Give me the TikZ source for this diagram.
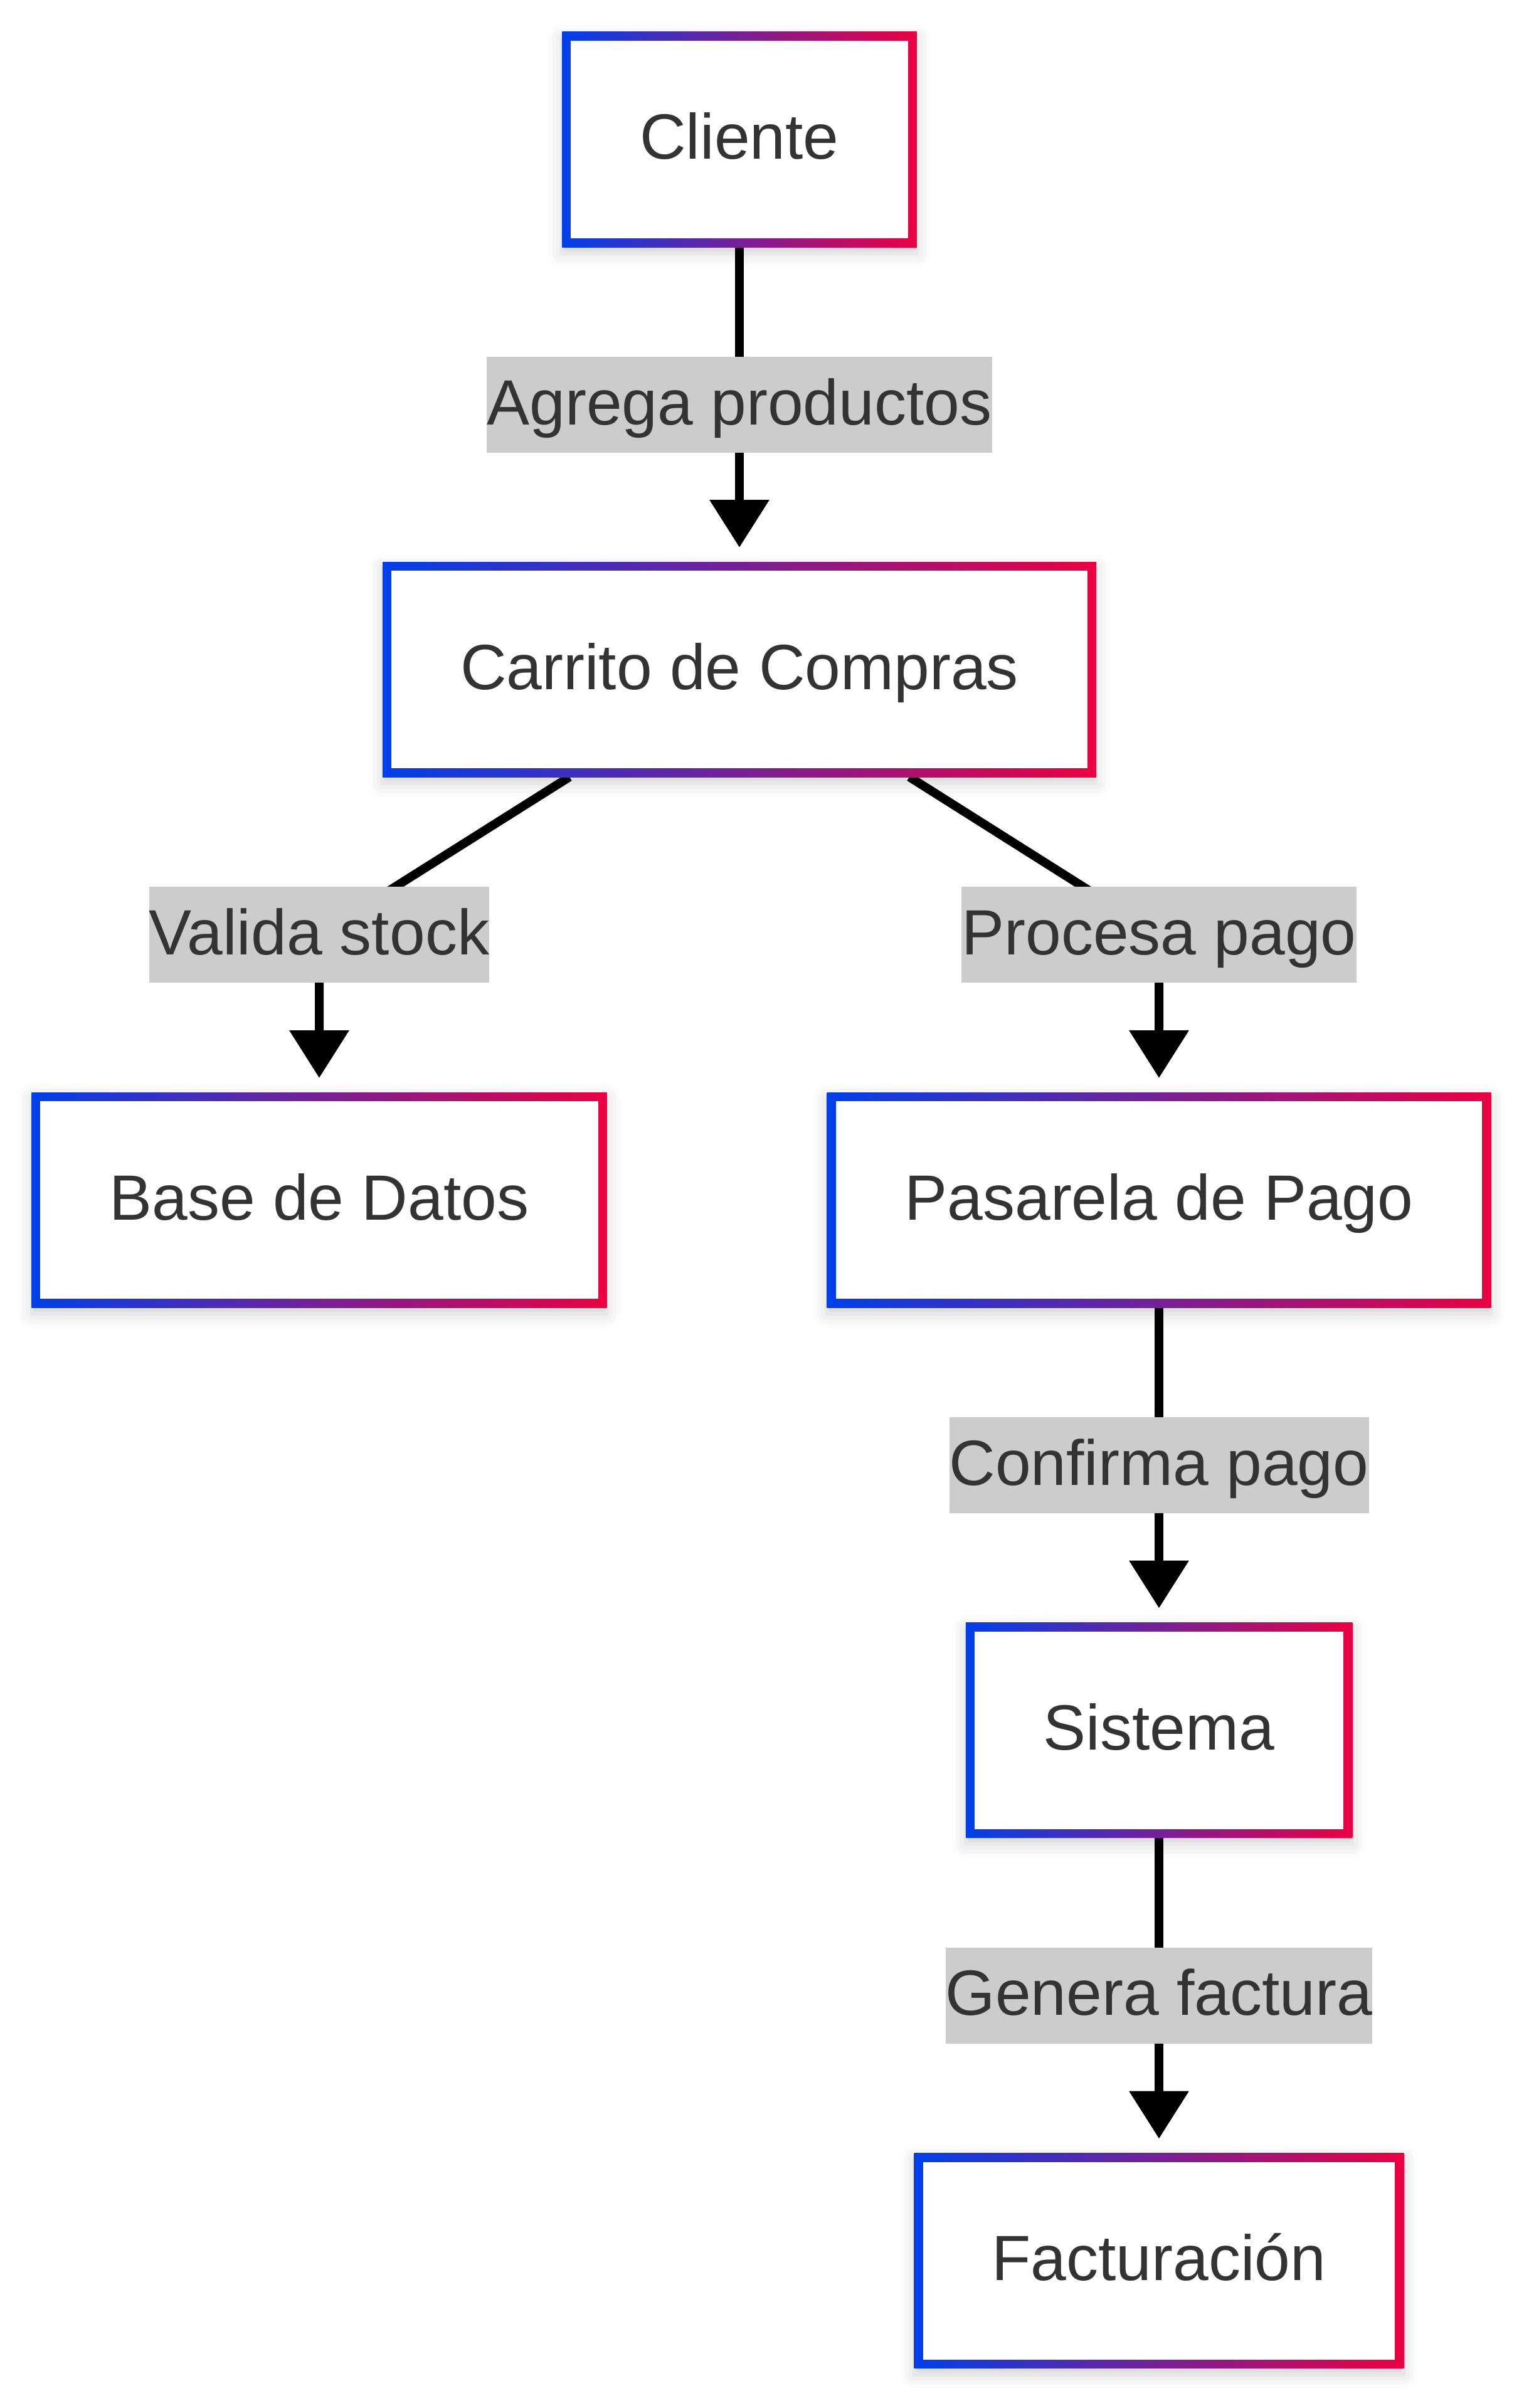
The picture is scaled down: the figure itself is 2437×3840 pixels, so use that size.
\documentclass[tikz,border=0pt]{standalone}
\usepackage{fontspec}
\setmainfont{Liberation Sans}
\usetikzlibrary{arrows.meta,shadows.blur,backgrounds}
\definecolor{gblue}{RGB}{0,64,235}
\definecolor{gred}{RGB}{236,0,66}
\definecolor{txtc}{RGB}{51,51,51}
\definecolor{lblbg}{RGB}{204,204,204}
\tikzset{
  bigfont/.style={font=\fontsize{102}{122}\selectfont, text=txtc},
  box/.style={bigfont, shade, left color=gblue, right color=gred,
    inner xsep=124pt, inner ysep=0pt, minimum height=343pt,
    text height=108pt, text depth=45pt, outer sep=0pt,
    blur shadow={shadow xshift=0pt, shadow yshift=-10pt, shadow blur radius=22pt, shadow opacity=18},
    path picture={\fill[white] ([shift={(14pt,-14pt)}]path picture bounding box.north west)
      rectangle ([shift={(-14pt,14pt)}]path picture bounding box.south east);}},
  lbl/.style={bigfont, fill=lblbg, inner sep=0pt, text height=108pt, text depth=45pt},
  edge/.style={line width=14pt, line join=round, -{Triangle[width=92pt,length=76pt]}, shorten >=23pt},
}
\begin{document}
\begin{tikzpicture}[x=1pt,y=-1pt]
\useasboundingbox (0,0) rectangle (2437,3840);
\node[box] (cliente) at (1179,222.5) {Cliente};
\node[box] (carrito) at (1179,1067.5) {Carrito de Compras};
\node[box] (base) at (509,1913.5) {Base de Datos};
\node[box] (pasarela) at (1848,1913.5) {Pasarela de Pago};
\node[box] (sistema) at (1848,2759) {Sistema};
\node[box] (factura) at (1848,3605) {Facturación};
\node[lbl] (l1) at (1179,645.5) {Agrega productos};
\node[lbl] (l2) at (509,1490.5) {Valida stock};
\node[lbl] (l3) at (1848,1490.5) {Procesa pago};
\node[lbl] (l4) at (1848,2336.5) {Confirma pago};
\node[lbl] (l5) at (1848,3182) {Genera factura};
\begin{pgfonlayer}{background}
\draw[edge] (cliente) -- (carrito);
\draw[edge] ([xshift=-271pt]carrito.south) -- (l2.center) -- (base.north);
\draw[edge] ([xshift=271pt]carrito.south) -- (l3.center) -- (pasarela.north);
\draw[edge] (pasarela) -- (sistema);
\draw[edge] (sistema) -- (factura);
\end{pgfonlayer}
\end{tikzpicture}
\end{document}
